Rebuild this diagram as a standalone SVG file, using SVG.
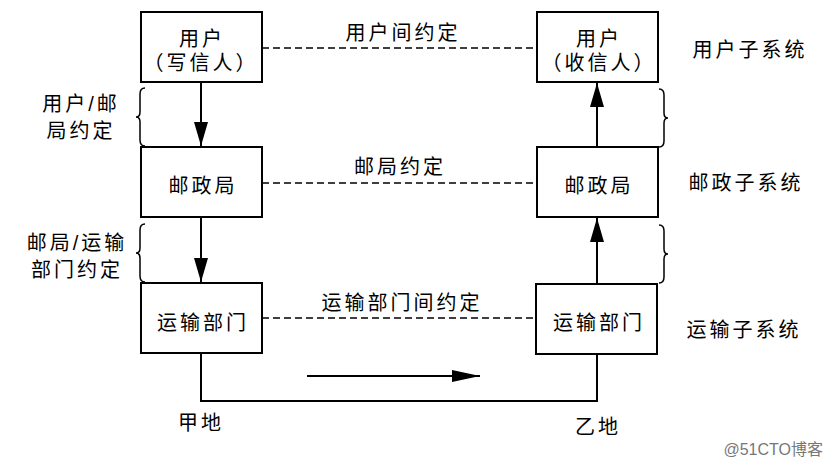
<svg xmlns="http://www.w3.org/2000/svg" width="833" height="468" viewBox="0 0 833 468">
<style>
.box{fill:#fff;stroke:#000;stroke-width:2}
.t{font-family:"Liberation Sans","Noto Sans CJK SC",sans-serif;font-size:20px;letter-spacing:3px;fill:#000;text-anchor:middle}
.line{fill:none;stroke:#000;stroke-width:2}
.dash{fill:none;stroke:#000;stroke-width:1.5;stroke-dasharray:7,4}
.brace{fill:none;stroke:#000;stroke-width:1.5}
</style>
<defs>
<marker id="ah2" viewBox="0 0 10 10" refX="10" refY="5" markerWidth="28" markerHeight="12" markerUnits="userSpaceOnUse" orient="auto" preserveAspectRatio="none">
<path d="M0,0 L10,5 L0,10 Z" fill="#000"/>
</marker>
<marker id="ahv" viewBox="0 0 10 10" refX="10" refY="5" markerWidth="24" markerHeight="14" markerUnits="userSpaceOnUse" orient="auto" preserveAspectRatio="none">
<path d="M0,0 L10,5 L0,10 Z" fill="#000"/>
</marker>
</defs>
<g id="connectors">
<line class="dash" x1="262" y1="48" x2="537" y2="48"/>
<line class="dash" x1="262" y1="183" x2="537" y2="183"/>
<line class="dash" x1="262" y1="318" x2="536" y2="318"/>
<line class="line" x1="201" y1="82" x2="201" y2="146" marker-end="url(#ahv)"/>
<line class="line" x1="201" y1="217" x2="201" y2="282" marker-end="url(#ahv)"/>
<line class="line" x1="597" y1="147" x2="597" y2="83" marker-end="url(#ahv)"/>
<line class="line" x1="597" y1="284" x2="597" y2="218" marker-end="url(#ahv)"/>
<polyline class="line" points="201,353 201,401 597,401 597,354"/>
<line class="line" x1="307" y1="376" x2="480" y2="376" marker-end="url(#ah2)"/>
<path class="brace" d="M145,88 Q140,88 140,94 L140,112 Q140,117 136,117 Q140,117 140,122 L140,140 Q140,146 145,146"/>
<path class="brace" d="M145,224 Q140,224 140,230 L140,248 Q140,253 136,253 Q140,253 140,258 L140,276 Q140,282 145,282"/>
<path class="brace" d="M659,89 Q664,89 664,95 L664,113 Q664,118 668,118 Q664,118 664,123 L664,141 Q664,147 659,147"/>
<path class="brace" d="M659,225 Q664,225 664,231 L664,249 Q664,254 668,254 Q664,254 664,259 L664,277 Q664,283 659,283"/>
</g>
<g id="user_send"><rect class="box" x="141" y="12" width="121" height="70"/><text class="t" x="202" y="46">用户</text><text class="t" x="201" y="70">（写信人）</text></g>
<g id="post_a"><rect class="box" x="141" y="147" width="121" height="70"/><text class="t" x="203" y="193">邮政局</text></g>
<g id="trans_a"><rect class="box" x="141" y="283" width="121" height="70"/><text class="t" x="203" y="330">运输部门</text></g>
<g id="user_recv"><rect class="box" x="537" y="12" width="121" height="70"/><text class="t" x="599" y="46">用户</text><text class="t" x="599" y="70">（收信人）</text></g>
<g id="post_b"><rect class="box" x="537" y="147" width="121" height="70"/><text class="t" x="599" y="193">邮政局</text></g>
<g id="trans_b"><rect class="box" x="536" y="284" width="121" height="70"/><text class="t" x="599" y="330">运输部门</text></g>
<g id="labels">
<text class="t" x="403" y="40">用户间约定</text>
<text class="t" x="400" y="174">邮局约定</text>
<text class="t" x="402" y="310">运输部门间约定</text>
<text class="t" x="81" y="111">用户/邮</text>
<text class="t" x="81" y="138">局约定</text>
<text class="t" x="77" y="250">邮局/运输</text>
<text class="t" x="77" y="277">部门约定</text>
<text class="t" x="750" y="57">用户子系统</text>
<text class="t" x="746" y="190">邮政子系统</text>
<text class="t" x="744" y="337">运输子系统</text>
<text class="t" x="201" y="430">甲地</text>
<text class="t" x="598" y="434">乙地</text>
<text x="823" y="455" style="font-family:'Liberation Sans','Noto Sans CJK SC',sans-serif;font-size:16px;fill:#777;text-anchor:end">@51CTO博客</text>
</g>
</svg>
